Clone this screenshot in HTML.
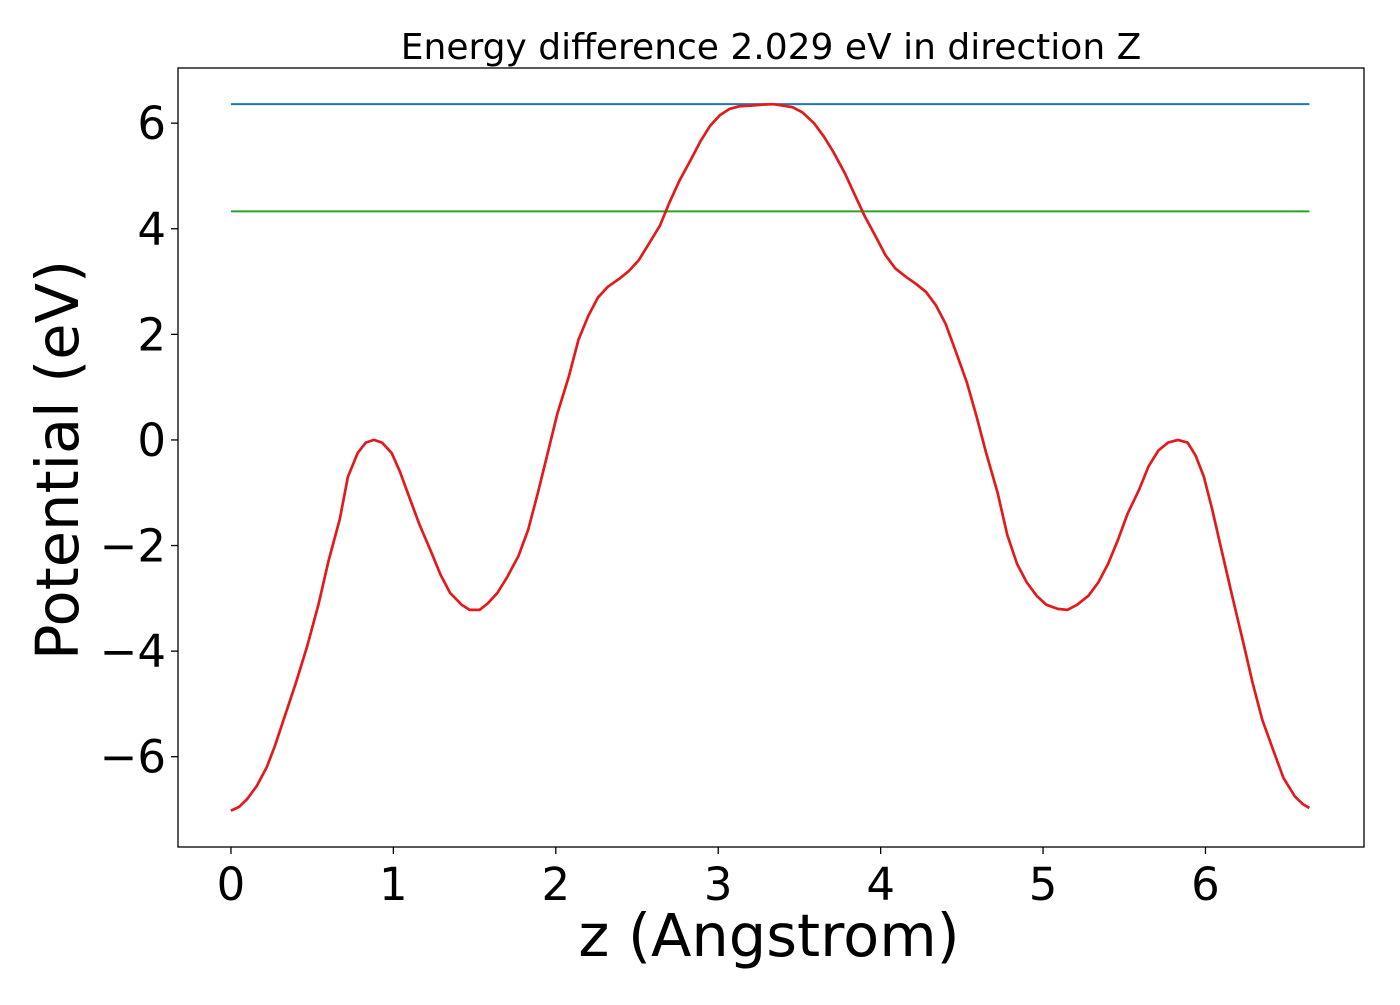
<!DOCTYPE html>
<html><head><meta charset="utf-8"><style>
body{margin:0;background:#fff;}
svg text{font-family:"DejaVu Sans","Liberation Sans",sans-serif;fill:#000;}
</style></head><body>
<svg id="chart" width="1400" height="1000">
<text x="771" y="59" font-size="36" text-anchor="middle">Energy difference 2.029 eV in direction Z</text>
<g id="xt"></g>
<g id="yt"></g>
<g id="marks"></g>
<rect x="178" y="68" width="1186" height="779" fill="none" stroke="#000" stroke-width="1.3"/>
<text x="769" y="956" font-size="59" text-anchor="middle">z (Angstrom)</text>
<text transform="translate(78,460) rotate(-90)" font-size="59" text-anchor="middle">Potential (eV)</text>
</svg>
<script>
const zVals=[0,.05,.10,.16,.22,.27,.33,.40,.47,.54,.60,.67,.72,.78,.83,.88,.93,.99,1.04,1.10,1.16,1.23,1.29,1.35,1.42,1.47,1.53,1.58,1.64,1.70,1.77,1.83,1.89,1.95,2.01,2.08,2.14,2.20,2.26,2.32,2.39,2.45,2.51,2.57,2.64,2.70,2.76,2.83,2.89,2.95,3.01,3.07,3.13,3.20,3.27,3.34,3.40,3.46,3.52,3.59,3.65,3.71,3.78,3.84,3.90,3.97,4.03,4.09,4.16,4.22,4.28,4.34,4.40,4.46,4.53,4.59,4.65,4.72,4.78,4.84,4.90,4.96,5.02,5.09,5.15,5.21,5.28,5.34,5.40,5.46,5.52,5.59,5.65,5.71,5.77,5.83,5.89,5.94,5.99,6.04,6.10,6.16,6.23,6.29,6.35,6.42,6.48,6.55,6.60,6.64];
const potVals=[-7.02,-6.95,-6.8,-6.55,-6.2,-5.8,-5.25,-4.6,-3.9,-3.1,-2.3,-1.5,-0.7,-0.25,-0.05,0,-0.05,-0.25,-0.6,-1.1,-1.6,-2.1,-2.55,-2.9,-3.12,-3.22,-3.22,-3.1,-2.9,-2.6,-2.2,-1.7,-1.0,-0.25,0.5,1.2,1.9,2.35,2.7,2.9,3.05,3.2,3.4,3.7,4.05,4.5,4.9,5.3,5.65,5.95,6.15,6.27,6.32,6.33,6.35,6.36,6.33,6.3,6.2,6.0,5.75,5.45,5.05,4.65,4.25,3.85,3.5,3.25,3.08,2.95,2.8,2.55,2.2,1.7,1.1,0.45,-0.25,-1.0,-1.8,-2.35,-2.7,-2.95,-3.12,-3.2,-3.22,-3.12,-2.95,-2.7,-2.35,-1.9,-1.4,-0.95,-0.5,-0.2,-0.05,0,-0.05,-0.3,-0.7,-1.3,-2.1,-2.9,-3.8,-4.6,-5.3,-5.9,-6.4,-6.75,-6.9,-6.97];
const levelVals=[6.36,4.33];
const levelColors=['#1f77b4','#2ca02c'];
const xTicks=[0,1,2,3,4,5,6];
const yTicks=[-6,-4,-2,0,2,4,6];
const X0=178,X1=1364,Y0=68,Y1=847,xmin=-0.326,xmax=6.976,ymin=-7.71,ymax=7.045;
const sx=v=>X0+(v-xmin)/(xmax-xmin)*(X1-X0);
const sy=v=>Y1-(v-ymin)/(ymax-ymin)*(Y1-Y0);
const NS='http://www.w3.org/2000/svg';
function mk(t,a){const e=document.createElementNS(NS,t);for(const k in a)e.setAttribute(k,a[k]);return e;}
const xt=document.getElementById('xt'),yt=document.getElementById('yt'),marks=document.getElementById('marks');
xTicks.forEach(v=>{
 const l=mk('line',{x1:sx(v),x2:sx(v),y1:Y1,y2:Y1+7,stroke:'#000','stroke-width':1.3});
 
 
 xt.appendChild(l);
 const t=mk('text',{x:sx(v),y:Y1+53,'font-size':45,'text-anchor':'middle'});
 
 
 t.textContent=v;xt.appendChild(t);
});
yTicks.forEach(v=>{
 const l=mk('line',{x1:X0-7,x2:X0,y1:sy(v),y2:sy(v),stroke:'#000','stroke-width':1.3});
 
 
 yt.appendChild(l);
 const t=mk('text',{x:X0-12,y:sy(v)+16,'font-size':45,'text-anchor':'end'});
 
 
 t.textContent=v<0?'\u2212'+(-v):v;yt.appendChild(t);
});
levelVals.forEach((v,i)=>{
 const l=mk('line',{x1:sx(zVals[0]),x2:sx(zVals[zVals.length-1]),y1:sy(v),y2:sy(v),stroke:levelColors[i],'stroke-width':2});
 
 
 marks.appendChild(l);
});
const p=mk('path',{d:zVals.map((z,i)=>(i?'L':'M')+sx(z).toFixed(1)+','+sy(potVals[i]).toFixed(1)).join(''),fill:'none',stroke:'#e31a1c','stroke-width':2.7,'stroke-linejoin':'round'});


marks.appendChild(p);
</script>
</body></html>
